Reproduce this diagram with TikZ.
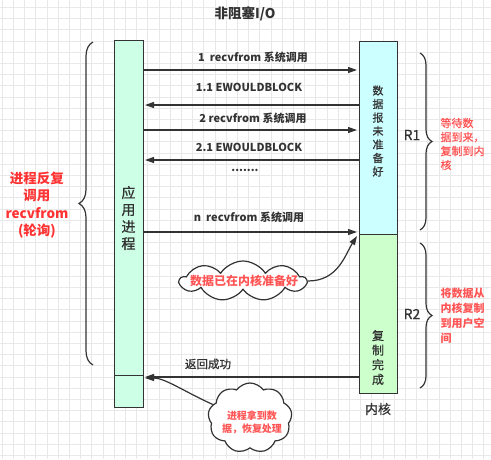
\documentclass[tikz,border=0pt]{standalone}
\usepackage{fontspec}
\setmainfont{Noto Sans CJK SC}
\newfontfamily\medfont{Noto Sans CJK SC}[FakeBold=0.8]
\usetikzlibrary{arrows.meta,shapes.symbols,decorations.pathreplacing,calc}
\definecolor{lc}{HTML}{333333}
\definecolor{appfill}{HTML}{CCFFE6}
\definecolor{kupc}{HTML}{CCFFFF}
\definecolor{kdnc}{HTML}{CCFFCC}
\definecolor{redA}{HTML}{FF3333}
\definecolor{redB}{HTML}{FF5555}
\definecolor{gridc}{HTML}{E8E8E8}
\tikzset{
  boxst/.style={draw=lc, line width=1.2pt, inner sep=0pt, anchor=north west},
  arr/.style={draw=lc, line width=1.2pt, -{Triangle[length=9pt,width=6pt]}},
  lbl/.style={font=\bfseries\fontsize{11}{13}\selectfont, text=lc},
  vtext/.style={align=center, text=lc},
  bracest/.style={draw=lc, line width=1.2pt, decorate, decoration={brace, amplitude=12pt}},
  cloudst/.style={cloud, draw=lc, fill=white, line width=1.2pt, inner sep=0pt},
  redtext/.style={text=redB, align=left},
}
\begin{document}
\begin{tikzpicture}[x=1pt,y=-1pt]
\useasboundingbox (0,0) rectangle (491,459);
\fill[white] (0,0) rectangle (491,459);
\foreach \i in {0,...,43} {
  \draw[gridc, line width=0.8pt] ({2.1+\i*11.2},0) -- ({2.1+\i*11.2},459);
}
\foreach \j in {0,...,41} {
  \draw[gridc, line width=0.8pt] (0,{7.4+\j*11.2}) -- (491,{7.4+\j*11.2});
}

% title
\node[font=\bfseries\fontsize{13.5}{15}\selectfont, text=lc] (title) at (245,14) {非阻塞I/O};

% boxes
\node[boxst, fill=appfill, minimum width=29pt, minimum height=335pt] (app) at (114,40) {};
\node[boxst, fill=appfill, minimum width=29pt, minimum height=32pt] (appb) at (114,375) {};
\node[boxst, fill=kupc, minimum width=38pt, minimum height=193pt] (kup) at (359,41) {};
\node[boxst, fill=kdnc, minimum width=38pt, minimum height=159pt] (kdn) at (359,234) {};

\node[vtext, font=\medfont\fontsize{14}{17}\selectfont] (apptxt) at (128.5,218) {应\\用\\进\\程};
\node[vtext, font=\medfont\fontsize{11}{13.5}\selectfont] (kuptxt) at (378,131) {数\\据\\报\\未\\准\\备\\好};
\node[vtext, font=\medfont\fontsize{12}{14.6}\selectfont] (kdntxt) at (378,357.5) {复\\制\\完\\成};
\node[font=\medfont\fontsize{13}{15}\selectfont, text=lc] (kname) at (378,409) {内核};

% arrows
\coordinate (a1s) at (143,70);  \coordinate (a1e) at (357,70);
\coordinate (a2s) at (359,105); \coordinate (a2e) at (145,105);
\coordinate (a3s) at (143,130); \coordinate (a3e) at (357,130);
\coordinate (a4s) at (359,160); \coordinate (a4e) at (145,160);
\coordinate (a5s) at (143,232); \coordinate (a5e) at (357,232);
\coordinate (a6s) at (359,377); \coordinate (a6e) at (145,377);
\draw[arr] (a1s) -- (a1e);
\draw[arr] (a2s) -- (a2e);
\draw[arr] (a3s) -- (a3e);
\draw[arr] (a4s) -- (a4e);
\draw[arr] (a5s) -- (a5e);
\draw[arr] (a6s) -- (a6e);

\node[lbl] (l1) at (253,57) {1\ \ recvfrom 系统调用};
\node[lbl] (l2) at (249,87) {1.1 EWOULDBLOCK};
\node[lbl] (l3) at (253,118) {2 recvfrom 系统调用};
\node[lbl] (l4) at (249,147) {2.1 EWOULDBLOCK};
\node[lbl] (l5) at (245,170) {.......};
\node[lbl] (l6) at (249,217) {n\ \ recvfrom 系统调用};
\node[lbl, font=\medfont\fontsize{11.5}{13}\selectfont] (l7) at (208,364) {返回成功};

% braces
\coordinate (bl1) at (93,365); \coordinate (bl2) at (93,42);
\draw[bracest, decoration={amplitude=14pt}] (bl1) -- (bl2);
\coordinate (br1) at (420,53); \coordinate (br2) at (420,230);
\draw[bracest] (br1) -- (br2);
\coordinate (br3) at (420,243); \coordinate (br4) at (420,388);
\draw[bracest] (br3) -- (br4);

\node[font=\medfont\fontsize{14}{16}\selectfont, text=lc] (r1) at (412,135) {R1};
\node[font=\medfont\fontsize{14}{16}\selectfont, text=lc] (r2) at (412,314) {R2};

% red texts
\node[align=center, text=redA, font=\bfseries\fontsize{13.5}{17.3}\selectfont] (left) at (37,205) {进程反复\\调用\\recvfrom\\(轮询)};
\node[redtext, anchor=west, font=\medfont\fontsize{11}{14}\selectfont] (rt1) at (437,144) {等待数\\据到来，\\复制到内\\核};
\node[redtext, anchor=west, font=\bfseries\fontsize{11}{15}\selectfont] (rt2) at (437,315.5) {将数据从\\内核复制\\到用户空\\间};

% clouds
\node[cloudst, cloud puffs=9, cloud puff arc=115, minimum width=126pt, minimum height=40pt] (c1) at (243,281) {};
\node[text=redB, font=\bfseries\fontsize{12}{14}\selectfont] (c1t) at (244,281) {数据已在内核准备好};
\node[cloudst, cloud puffs=9, cloud puff arc=110, minimum width=84pt, minimum height=70pt] (c2) at (250,418) {};
\node[text=redB, align=center, font=\bfseries\fontsize{10}{13}\selectfont] (c2t) at (252,422) {进程拿到数\\据，恢复处理};

\coordinate (c1end) at (357,236);
\draw[arr] (c1.east) .. controls (338,281) and (345,255) .. (c1end);
\coordinate (c2end) at (145,378);
\draw[arr] (c2.160) .. controls (185,392) and (165,378) .. (c2end);
\end{tikzpicture}
\end{document}
